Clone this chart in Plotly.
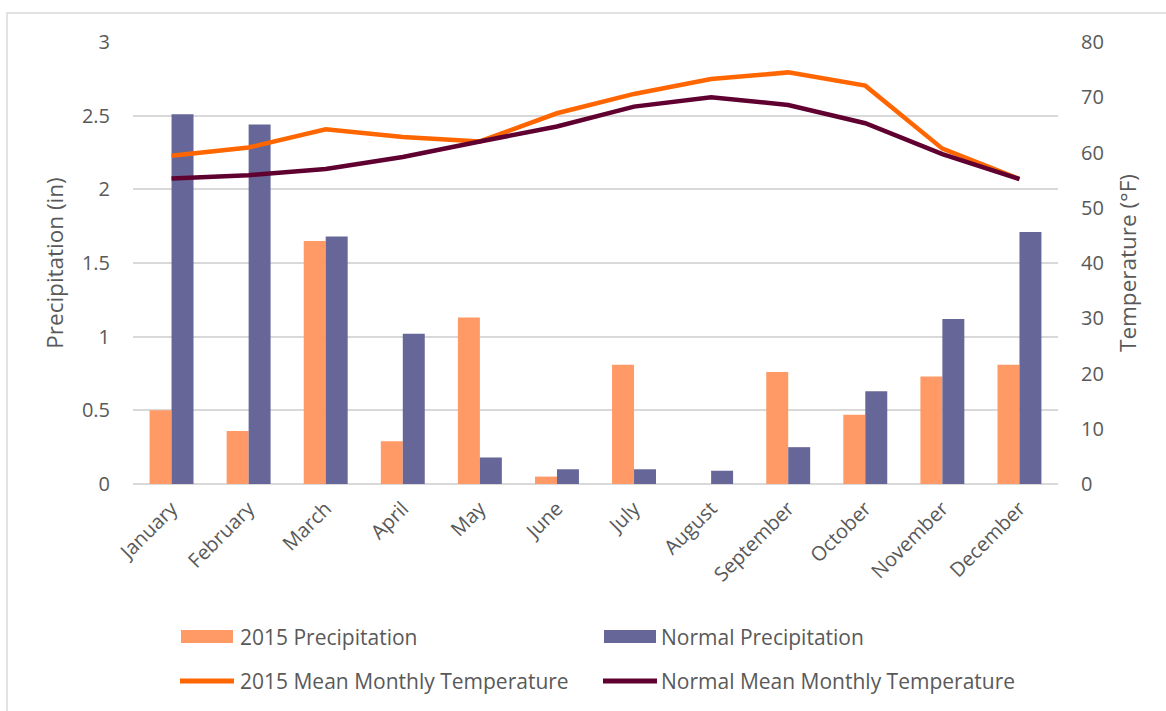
import plotly.graph_objects as go

months = ["January", "February", "March", "April", "May", "June", "July",
          "August", "September", "October", "November", "December"]
precip_2015 = [0.50, 0.36, 1.65, 0.29, 1.13, 0.05, 0.81, 0.00, 0.76, 0.47, 0.73, 0.81]
precip_normal = [2.51, 2.44, 1.68, 1.02, 0.18, 0.10, 0.10, 0.09, 0.25, 0.63, 1.12, 1.71]
temp_2015 = [59.4, 60.9, 64.2, 62.8, 62.0, 67.1, 70.6, 73.3, 74.5, 72.1, 60.7, 55.2]
temp_normal = [55.3, 55.9, 57.0, 59.2, 62.0, 64.7, 68.3, 70.0, 68.6, 65.3, 59.7, 55.2]

series_names = ["2015 Precipitation", "Normal Precipitation",
                "2015 Mean Monthly Temperature", "Normal Mean Monthly Temperature"]
series_colors = ["#FF9966", "#666699", "#FF6600", "#600030"]

W, H = 1166, 711
ML, MR, MT, MB = 133, 108, 42, 227
PW, PH = W - ML - MR, H - MT - MB

FONT = "Open Sans"
GRAY = "#595959"


def xp(px):
    return (px - ML) / PW


def yp(py):
    return (H - MB - py) / PH


fig = go.Figure()
fig.add_trace(go.Bar(x=months, y=precip_2015, name=series_names[0],
                     marker=dict(color=series_colors[0], line=dict(width=0)),
                     yaxis="y"))
fig.add_trace(go.Bar(x=months, y=precip_normal, name=series_names[1],
                     marker=dict(color=series_colors[1], line=dict(width=0)),
                     yaxis="y"))
fig.add_trace(go.Scatter(x=months, y=temp_2015, name=series_names[2], mode="lines",
                         line=dict(color=series_colors[2], width=4.5), yaxis="y2"))
fig.add_trace(go.Scatter(x=months, y=temp_normal, name=series_names[3], mode="lines",
                         line=dict(color=series_colors[3], width=4.5), yaxis="y2"))

# Custom legend: wide swatches for the bars, thick strokes for the lines
shapes = []
annotations = []
legend_items = [
    (181, 233, 636.5, "rect", 238),
    (604, 656, 636.5, "rect", 659),
    (180, 234, 681, "line", 238),
    (603, 657, 681, "line", 659),
]
for (x0, x1, yc, kind, tx), name, color in zip(legend_items, series_names, series_colors):
    if kind == "rect":
        shapes.append(dict(type="rect", xref="paper", yref="paper",
                           x0=xp(x0), x1=xp(x1), y0=yp(yc - 6.5), y1=yp(yc + 6.5),
                           fillcolor=color, line=dict(width=0)))
    else:
        shapes.append(dict(type="line", xref="paper", yref="paper",
                           x0=xp(x0), x1=xp(x1), y0=yp(yc), y1=yp(yc),
                           line=dict(color=color, width=5)))
    annotations.append(dict(xref="paper", yref="paper", x=xp(tx), y=yp(yc),
                            xanchor="left", yanchor="middle", showarrow=False,
                            text=name, font=dict(family=FONT, size=21, color=GRAY)))

# Chart-area border
shapes.append(dict(type="rect", xref="paper", yref="paper",
                   x0=xp(7), x1=xp(W + 10), y0=yp(H + 10), y1=yp(13),
                   line=dict(color="#d9d9d9", width=1.5), fillcolor="rgba(0,0,0,0)",
                   layer="below"))

fig.update_layout(
    width=W, height=H,
    margin=dict(l=ML, r=MR, t=MT, b=MB),
    paper_bgcolor="white", plot_bgcolor="white",
    barmode="group", bargap=0.43, bargroupgap=0,
    showlegend=False,
    font=dict(family=FONT, color=GRAY),
    xaxis=dict(type="category", tickangle=-45, showgrid=False, showline=False,
               zeroline=False, ticks="", ticklabelstandoff=8,
               tickfont=dict(family=FONT, size=20, color=GRAY)),
    yaxis=dict(range=[0, 3], dtick=0.5, tick0=0, showgrid=True, gridcolor="#d9d9d9",
               gridwidth=1.5, zeroline=True, zerolinecolor="#d9d9d9", zerolinewidth=1.5,
               showline=False, ticks="", ticklabelstandoff=22,
               tickfont=dict(family=FONT, size=20, color=GRAY),
               title=dict(text="Precipitation (in)", standoff=12,
                          font=dict(family=FONT, size=22.5, color=GRAY))),
    yaxis2=dict(range=[0, 80], dtick=10, tick0=0, overlaying="y", side="right",
                showgrid=False, zeroline=False, showline=False, ticks="",
                ticklabelstandoff=22,
                tickfont=dict(family=FONT, size=20, color=GRAY),
                title=dict(text="Temperature (°F)", standoff=17,
                           font=dict(family=FONT, size=22.5, color=GRAY))),
    shapes=shapes,
    annotations=annotations,
)

fig.write_html("out.html")
